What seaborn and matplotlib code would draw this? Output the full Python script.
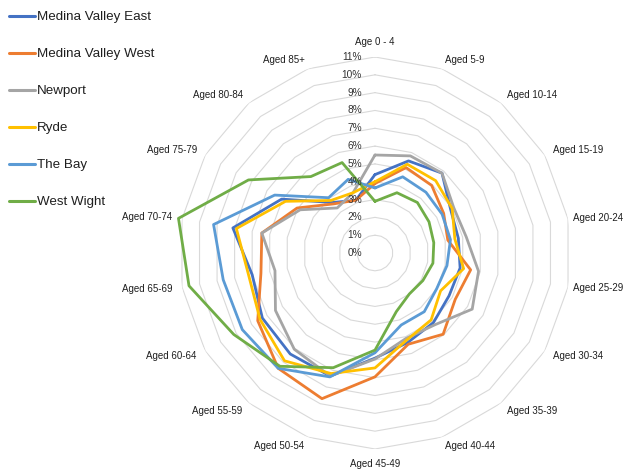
import numpy as np
import pandas as pd
import matplotlib
matplotlib.use("Agg")
import matplotlib.pyplot as plt
import seaborn as sns
from matplotlib.transforms import offset_copy

categories = ["Age 0 - 4", "Aged 5-9", "Aged 10-14", "Aged 15-19", "Aged 20-24",
              "Aged 25-29", "Aged 30-34", "Aged 35-39", "Aged 40-44", "Aged 45-49",
              "Aged 50-54", "Aged 55-59", "Aged 60-64", "Aged 65-69", "Aged 70-74",
              "Aged 75-79", "Aged 80-84", "Aged 85+"]

series_names = ["Medina Valley East", "Medina Valley West", "Newport", "Ryde", "The Bay", "West Wight"]

medina_valley_east = [4.4, 5.5, 5.85, 4.9, 4.75, 4.85, 4.8, 5.1, 5.35, 5.9, 7.35, 7.4, 7.3, 7.0, 8.1, 6.05, 3.7, 3.15]
medina_valley_west = [3.9, 5.1, 4.95, 4.45, 4.15, 5.45, 5.2, 5.95, 5.45, 6.95, 8.7, 8.45, 7.6, 6.5, 6.45, 5.05, 3.6, 3.15]
newport = [5.5, 5.8, 5.85, 5.1, 5.2, 5.9, 6.3, 5.25, 5.1, 5.95, 7.35, 7.05, 6.45, 5.7, 6.45, 4.85, 3.3, 3.6]
ryde = [4.0, 5.3, 5.3, 5.0, 4.55, 5.05, 4.25, 4.9, 5.2, 6.45, 7.2, 7.9, 7.45, 7.2, 7.9, 5.8, 3.85, 3.6]
the_bay = [3.65, 4.55, 4.45, 4.35, 4.3, 4.1, 4.0, 4.3, 4.3, 5.6, 7.4, 8.45, 8.6, 8.65, 9.2, 6.5, 4.05, 4.4]
west_wight = [2.9, 3.6, 3.7, 3.5, 3.35, 3.3, 3.1, 3.0, 3.5, 5.45, 6.85, 8.3, 9.15, 10.6, 11.2, 8.2, 5.6, 5.4]

series_values = [medina_valley_east, medina_valley_west, newport, ryde, the_bay, west_wight]
colors = ["#4472C4", "#ED7D31", "#A5A5A5", "#FFC000", "#5B9BD5", "#70AD47"]
tick_values = list(range(0, 12))

sns.set_theme(style="white")
plt.rcParams['font.family'] = ['Liberation Sans', 'DejaVu Sans']

W, H = 627, 472
fig = plt.figure(figsize=(W / 100, H / 100), dpi=100)
cx, cy, R = 375, 253, 196
ax = fig.add_axes([(cx - R) / W, (H - cy - R) / H, 2 * R / W, 2 * R / H], projection='polar')
ax.set_theta_offset(np.pi / 2)
ax.set_theta_direction(-1)
ax.set_ylim(0, 11)
ax.grid(False)
ax.set_xticks([])
ax.set_yticks([])
ax.spines['polar'].set_visible(False)
ax.patch.set_alpha(0)

n = len(categories)
theta = np.linspace(0, 2 * np.pi, n, endpoint=False)
theta_closed = np.append(theta, 2 * np.pi)

# polygon gridlines
for k in tick_values[1:]:
    ax.plot(theta_closed, [k] * (n + 1), color="#D9D9D9", lw=0.8, zorder=1)

rows = []
for name, vals in zip(series_names, series_values):
    v = list(vals) + [vals[0]]
    for t, val in zip(theta_closed, v):
        rows.append({"theta": t, "value": val, "Area": name})
df = pd.DataFrame(rows)

sns.lineplot(data=df, x="theta", y="value", hue="Area", hue_order=series_names,
             palette=dict(zip(series_names, colors)), estimator=None, sort=False,
             lw=2.0, ax=ax, clip_on=False, zorder=3)
ax.set_xlabel("")
ax.set_ylabel("")

# radial tick labels
trans = offset_copy(ax.transData, fig=fig, x=-13, y=0, units='dots')
for k in tick_values:
    ax.text(0, k, f"{k}%", transform=trans, ha='right', va='center',
            fontsize=7.3, color="#333333", zorder=4)

# category labels
for t, lab in zip(theta, categories):
    s, c = np.sin(t), np.cos(t)
    r_lab = 11.55
    if abs(s) < 0.1:
        ha = 'center'
        va = 'bottom' if c > 0 else 'top'
    else:
        ha = 'left' if s > 0 else 'right'
        va = 'center'
    if s > 0.95:
        r_lab = 11.3
    ax.text(t, r_lab, lab, ha=ha, va=va, fontsize=7.0, color="#1f1f1f")

handles, labels = ax.get_legend_handles_labels()
if ax.get_legend() is not None:
    ax.get_legend().remove()
leg = fig.legend(handles, labels, loc='upper left', bbox_to_anchor=(9 / W, 1 - 11 / H),
                 frameon=False, fontsize=9.6, handlelength=1.95, handletextpad=0.12,
                 labelspacing=1.85, borderpad=0, borderaxespad=0)
for txt in leg.get_texts():
    txt.set_color("#1f1f1f")
for h in leg.legend_handles:
    h.set_linewidth(2.2)

fig.savefig("out.png", dpi=100)
